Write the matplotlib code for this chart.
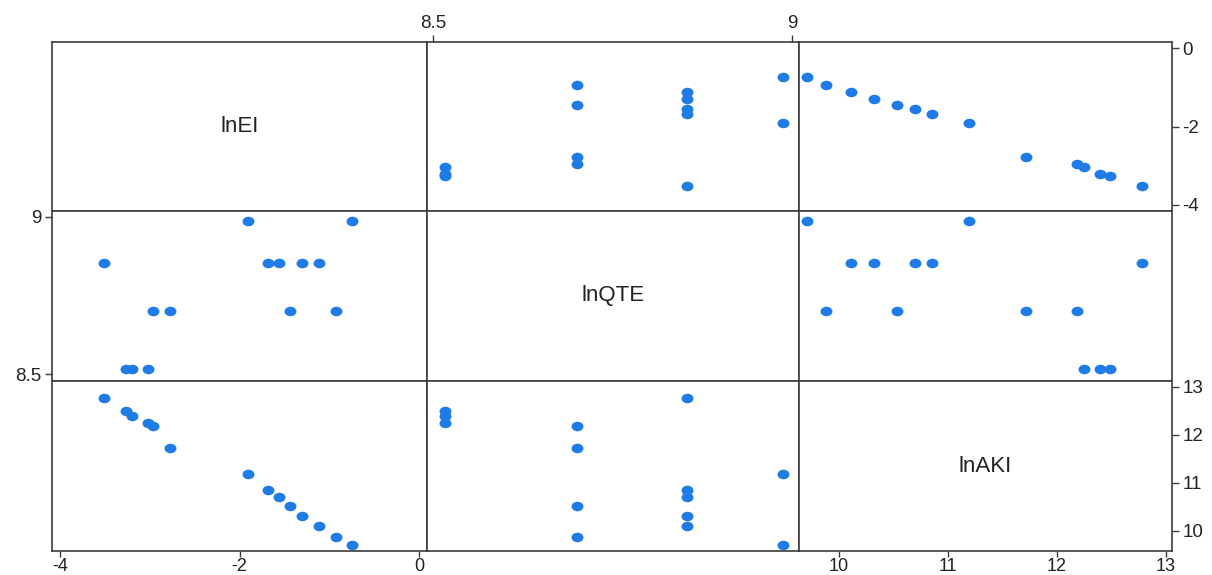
import matplotlib
matplotlib.use('Agg')
import matplotlib.pyplot as plt
from matplotlib.path import Path
from matplotlib.markers import MarkerStyle
from matplotlib.transforms import Affine2D

plt.rcParams['font.family'] = ['Liberation Sans', 'DejaVu Sans']
plt.rcParams['axes.unicode_minus'] = False

lnEI = [-0.75, -0.93, -1.11, -1.30, -1.44, -1.56, -1.68, -1.91,
        -2.77, -2.96, -3.02, -3.20, -3.27, -3.51]
lnQTE = [8.987, 8.700, 8.854, 8.854, 8.700, 8.854, 8.854, 8.987,
         8.700, 8.700, 8.517, 8.517, 8.517, 8.854]
lnAKI = [9.71, 9.88, 10.11, 10.32, 10.53, 10.70, 10.85, 11.19,
         11.72, 12.18, 12.25, 12.39, 12.49, 12.78]

var_names = ['lnEI', 'lnQTE', 'lnAKI']
var_data = [lnEI, lnQTE, lnAKI]
var_ticks = [[-4, -2, 0], [8.5, 9], [10, 11, 12, 13]]
var_ticklabels = [['-4', '-2', '0'], ['8.5', '9'], ['10', '11', '12', '13']]
xlims = [(-4.089, 0.089), (8.4916, 9.0097), (9.633, 13.055)]
ylims = [(-4.153, 0.153), (8.478, 9.019), (9.583, 13.125)]

W, H = 1212, 575
fig = plt.figure(figsize=(W / 100, H / 100), dpi=100)

col_edges = [52, 427, 799, 1172]
row_edges = [42, 211, 381, 551]

marker_color = '#1f7be6'
frame_color = '#3c3c3c'
tick_fs = 13.5
label_fs = 16

# slightly wide elliptical dot, as in the reference
ellipse = Path.unit_circle().transformed(Affine2D().scale(1.25, 1.0))
dot = MarkerStyle(ellipse)

for r in range(3):
    for c in range(3):
        x0, x1 = col_edges[c], col_edges[c + 1]
        y0, y1 = row_edges[r], row_edges[r + 1]
        ax = fig.add_axes([x0 / W, 1 - y1 / H, (x1 - x0) / W, (y1 - y0) / H])
        ax.set_xlim(*xlims[c])
        ax.set_ylim(*ylims[r])
        for s in ax.spines.values():
            s.set_color(frame_color)
            s.set_linewidth(1.2)
        ax.set_xticks([])
        ax.set_yticks([])
        if r == c:
            ax.text(0.5, 0.5, var_names[r], transform=ax.transAxes,
                    ha='center', va='center', fontsize=label_fs, color='#222222')
        else:
            ax.plot(var_data[c], var_data[r], linestyle='none', marker=dot,
                    color=marker_color, markersize=8.6, markeredgewidth=0)

        tick_kw = dict(direction='out', length=5, width=1, colors=frame_color,
                       labelcolor='#222222', labelsize=tick_fs, pad=2.5)
        if r == 2 and c in (0, 2):
            ax.set_xticks(var_ticks[c])
            ax.set_xticklabels(var_ticklabels[c])
            bkw = dict(tick_kw, length=4, pad=1.0, labelsize=13)
            ax.tick_params(axis='x', bottom=True, labelbottom=True, **bkw)
        if r == 0 and c == 1:
            ax.set_xticks(var_ticks[c])
            ax.set_xticklabels(var_ticklabels[c])
            ax.tick_params(axis='x', top=True, labeltop=True,
                           bottom=False, labelbottom=False, **tick_kw)
        if c == 2 and r in (0, 2):
            ax.set_yticks(var_ticks[r])
            ax.set_yticklabels(var_ticklabels[r])
            ax.tick_params(axis='y', right=True, labelright=True,
                           left=False, labelleft=False, **tick_kw)
        if c == 0 and r == 1:
            ax.set_yticks(var_ticks[r])
            ax.set_yticklabels(var_ticklabels[r])
            ax.tick_params(axis='y', left=True, labelleft=True, **tick_kw)

fig.savefig('out.png', dpi=100, facecolor='white')
